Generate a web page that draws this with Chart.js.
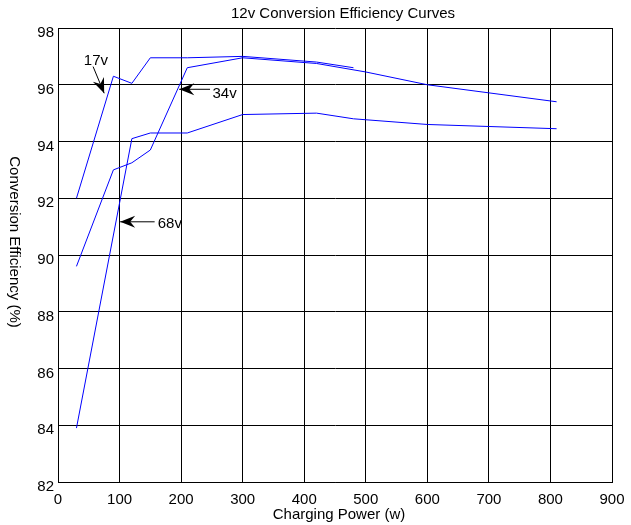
<!DOCTYPE html>
<html>
  <body style="margin:0; background:#fff;">
    <canvas id="eff" style="width:631px; height:525px;"></canvas>

    <script src="https://cdn.jsdelivr.net/npm/chart.js"></script>
    <script>
      // values
      const power17 = [30, 90, 120, 150, 210, 300, 420, 480];
      const eff17   = [92.0, 96.3, 96.05, 96.95, 96.95, 97.0, 96.8, 96.6];

      const power34 = [30, 90, 120, 150, 210, 300, 420, 500, 600, 810];
      const eff34   = [89.6, 93.0, 93.25, 93.7, 96.6, 96.95, 96.75, 96.45, 96.0, 95.4];

      const power68 = [30, 120, 150, 210, 300, 420, 480, 600, 810];
      const eff68   = [83.9, 94.1, 94.3, 94.3, 94.95, 95.0, 94.8, 94.6, 94.45];

      // arrow labels: text, text anchor, arrow tail, arrow tip (data units)
      const labels = [
        { text: '17v', tx: 42,  ty: 96.84, x0: 57,  y0: 96.64, x1: 75,  y1: 95.7 },
        { text: '34v', tx: 251, ty: 95.69, x0: 247, y0: 95.84, x1: 197, y1: 95.84 },
        { text: '68v', tx: 162, ty: 91.08, x0: 157, y0: 91.17, x1: 101, y1: 91.17 }
      ];

      const FONT = '15px "Liberation Sans", Arial, sans-serif';

      const toPts = (xs, ys) => xs.map((x, i) => ({ x: x, y: ys[i] }));

      const lineStyle = {
        borderColor: '#0000ff',
        borderWidth: 1,
        pointRadius: 0,
        fill: false,
        tension: 0
      };

      const extras = {
        id: 'extras',
        afterDraw(chart) {
          const { ctx, chartArea, scales } = chart;
          const xs = scales.x, ys = scales.y;
          ctx.save();
          ctx.fillStyle = '#000';
          ctx.strokeStyle = '#000';
          ctx.font = FONT;
          ctx.textAlign = 'center';
          ctx.textBaseline = 'middle';

          // title
          ctx.fillText('12v Conversion Efficiency Curves', (chartArea.left + chartArea.right) / 2 + 8, 14);
          // x title
          ctx.fillText('Charging Power (w)', (chartArea.left + chartArea.right) / 2 + 4, 515);
          // y title, reads top to bottom
          ctx.save();
          ctx.translate(14, 242);
          ctx.rotate(Math.PI / 2);
          ctx.fillText('Conversion Efficiency (%)', 0, 0);
          ctx.restore();

          // arrows
          labels.forEach(l => {
            const ax = xs.getPixelForValue(l.x0), ay = ys.getPixelForValue(l.y0);
            const bx = xs.getPixelForValue(l.x1), by = ys.getPixelForValue(l.y1);
            const ang = Math.atan2(by - ay, bx - ax);
            ctx.lineWidth = 1;
            ctx.beginPath();
            ctx.moveTo(ax, ay);
            ctx.lineTo(bx, by);
            ctx.stroke();
            // notched arrow head
            const len = 15, half = 6, notch = 10;
            const c = Math.cos(ang), s = Math.sin(ang);
            ctx.beginPath();
            ctx.moveTo(bx, by);
            ctx.lineTo(bx - len * c + half * s, by - len * s - half * c);
            ctx.lineTo(bx - notch * c, by - notch * s);
            ctx.lineTo(bx - len * c - half * s, by - len * s + half * c);
            ctx.closePath();
            ctx.fill();

            ctx.textAlign = 'left';
            ctx.fillText(l.text, xs.getPixelForValue(l.tx), ys.getPixelForValue(l.ty));
            ctx.textAlign = 'center';
          });
          ctx.restore();
        }
      };

      new Chart(document.getElementById('eff').getContext('2d'), {
        type: 'line',
        data: {
          datasets: [
            Object.assign({ label: '17v', data: toPts(power17, eff17) }, lineStyle),
            Object.assign({ label: '34v', data: toPts(power34, eff34) }, lineStyle),
            Object.assign({ label: '68v', data: toPts(power68, eff68) }, lineStyle)
          ]
        },
        options: {
          responsive: false,
          animation: false,
          events: [],
          layout: { padding: { top: 28, right: 19, left: 0, bottom: 0 } },
          plugins: {
            legend: { display: false },
            title: { display: false },
            tooltip: { enabled: false }
          },
          scales: {
            x: {
              type: 'linear',
              min: 0, max: 900,
              ticks: { stepSize: 100, color: '#000', font: { size: 15, family: '"Liberation Sans", Arial' }, padding: 9, maxRotation: 0 },
              grid: { color: '#000', lineWidth: 1, tickLength: 0 },
              border: { color: '#000', width: 1 },
              afterFit(scale) { scale.height = 43; scale.paddingRight = 0; scale.paddingLeft = 0; }
            },
            y: {
              type: 'linear',
              min: 82, max: 98,
              ticks: { stepSize: 2, color: '#000', font: { size: 15, family: '"Liberation Sans", Arial' }, padding: 4, labelOffset: 5 },
              grid: { color: '#000', lineWidth: 1, tickLength: 0 },
              border: { color: '#000', width: 1 },
              afterFit(scale) { scale.width = 58; scale.paddingTop = 0; scale.paddingBottom = 0; }
            }
          }
        },
        plugins: [extras]
      });
    </script>
  </body>
</html>
